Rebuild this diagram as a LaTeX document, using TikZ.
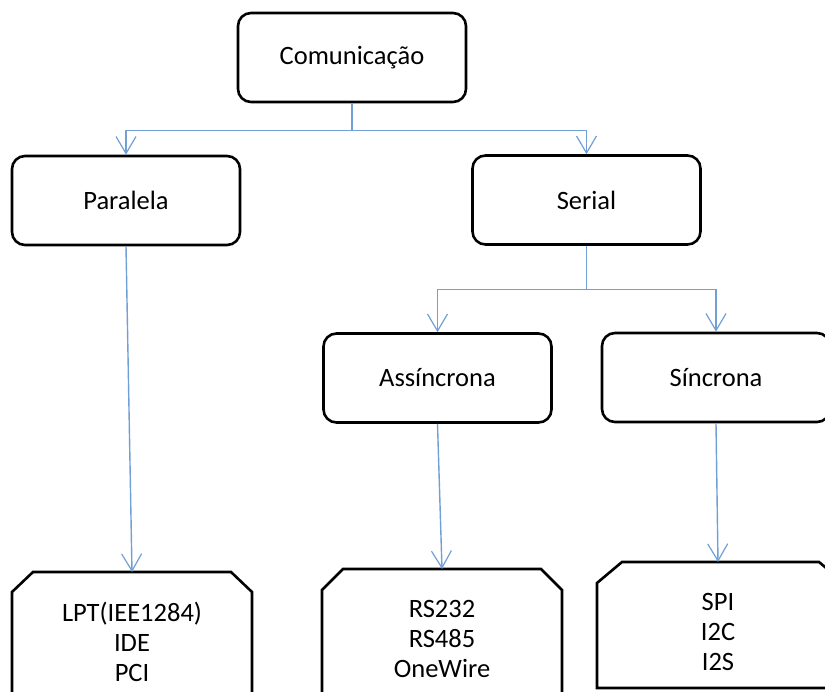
\documentclass[tikz,border=0pt]{standalone}
\usepackage{fontspec}
\setmainfont{Carlito}
\usetikzlibrary{arrows.meta}
\definecolor{linkblue}{RGB}{112,160,214}
\tikzset{
  catbox/.style={draw=black, line width=2.6pt, rounded corners=13pt,
    minimum width=228pt, minimum height=89pt, inner sep=0pt,
    font=\fontsize{26.5}{30}\selectfont},
  leafframe/.style={draw=black, line width=2.6pt},
  leaftext/.style={align=center, inner sep=0pt,
    font=\fontsize{26.5}{30}\selectfont},
  link/.style={draw=linkblue, line width=1.4pt,
    -{Straight Barb[length=17pt,width=20pt,line width=1.2pt]}},
  branch/.style={draw=linkblue, line width=1.4pt}
}
\begin{document}
\begin{tikzpicture}[x=1pt,y=-1pt]
  \useasboundingbox (0,0) rectangle (825,692);
  \clip (0,0) rectangle (825,692);

  % category boxes
  \node[catbox] (com) at (352,57.5) {Comunicação};
  \node[catbox] (par) at (126,200.5) {Paralela};
  \node[catbox] (ser) at (586.5,200) {Serial};
  \node[catbox] (asy) at (437.5,378) {Assíncrona};
  \node[catbox] (syn) at (716,377.5) {Síncrona};

  % leaf boxes with snipped top corners
  \draw[leafframe] (12,720) -- (12,592) -- (33,572) -- (231,572) -- (252,592) -- (252,720);
  \coordinate (lptTop) at (132,572);
  \node[leaftext] (lpt) at (132,641.5) {LPT(IEE1284)\\IDE\\PCI};

  \draw[leafframe] (322,720) -- (322,590) -- (343,569) -- (541,569) -- (562,590) -- (562,720);
  \coordinate (rsTop) at (442,569);
  \node[leaftext] (rs) at (442,638.5) {RS232\\RS485\\OneWire};

  \draw[leafframe] (597,688) -- (597,583) -- (622,562) -- (819,562) -- (844,583) -- (844,688) -- cycle;
  \coordinate (spiTop) at (718,562);
  \node[leaftext] (spi) at (718,631.5) {SPI\\I2C\\I2S};

  % connectors
  \draw[branch] (com.south) -- ++(0,27) coordinate (comJ);
  \draw[link] (comJ) -| (par.north);
  \draw[link] (comJ) -| (ser.north);

  \draw[branch] (ser.south) -- ++(0,44) coordinate (serJ);
  \draw[link] (serJ) -| (asy.north);
  \draw[link] (serJ) -| (syn.north);

  \draw[link] (par.south) -- (lptTop);
  \draw[link] (asy.south) -- (rsTop);
  \draw[link] (syn.south) -- (spiTop);
\end{tikzpicture}
\end{document}
